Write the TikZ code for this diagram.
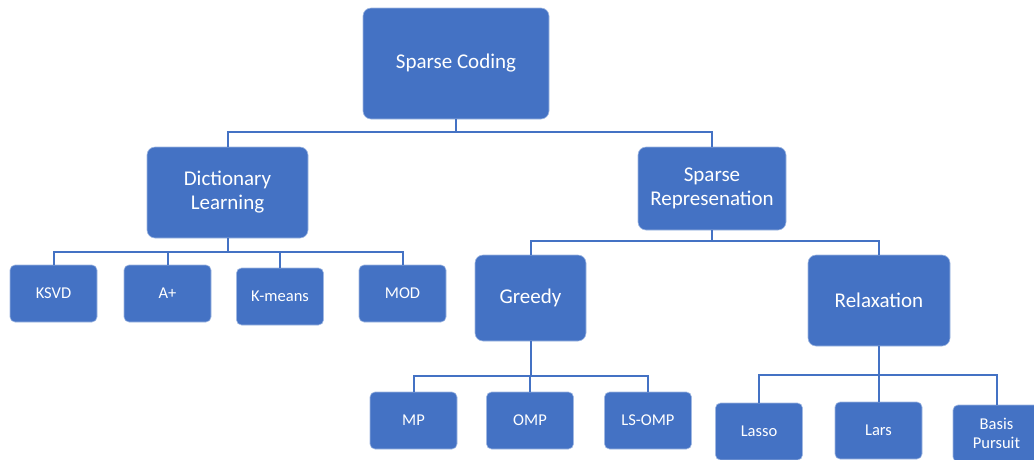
\documentclass[tikz,border=0pt]{standalone}
\usepackage{fontspec}
\setmainfont{Carlito}
\usetikzlibrary{positioning}
\definecolor{smartblue}{RGB}{68,114,196}
\definecolor{edgeblue}{RGB}{160,184,226}

\begin{document}
\begin{tikzpicture}[
    x=1pt, y=-1pt,
    bigbox/.style={rectangle, rounded corners=8pt, draw=edgeblue, line width=0.6pt, fill=smartblue,
                 text=white, inner sep=0pt, align=center, font=\fontsize{21}{24}\selectfont},
    leafbox/.style={bigbox, rounded corners=5pt, minimum width=87, minimum height=57,
                 font=\fontsize{16.5}{21}\selectfont},
    link/.style={draw=smartblue, line width=2pt}
]
\useasboundingbox (0,0) rectangle (1034,459);
\clip (0,0) rectangle (1034,459);
\fill[white] (0,0) rectangle (1034,459);
\node[bigbox, minimum width=186, minimum height=111] (sc) at (456,63.5) {Sparse Coding};
\node[bigbox, minimum width=161, minimum height=91] (dl) at (227.5,192.5) {Dictionary\\Learning};
\node[bigbox, minimum width=148, minimum height=83] (sr) at (712,188.5) {Sparse\\Represenation};
\node[leafbox] (ksvd) at (53.5,293.5) {KSVD};
\node[leafbox] (aplus) at (167.5,293.5) {A+};
\node[leafbox] (kmeans) at (280,296.5) {K-means};
\node[leafbox] (mod) at (402.5,293.5) {MOD};
\node[bigbox, minimum width=111, minimum height=86] (greedy) at (530.5,298) {Greedy};
\node[bigbox, minimum width=142, minimum height=91] (relax) at (879,300.5) {Relaxation};
\node[leafbox] (mp) at (413.5,420.5) {MP};
\node[leafbox] (omp) at (530,420.5) {OMP};
\node[leafbox] (lsomp) at (648,420.5) {LS-OMP};
\node[leafbox] (lasso) at (759,431.5) {Lasso};
\node[leafbox] (lars) at (878.5,430.5) {Lars};
\node[leafbox, font=\fontsize{16.5}{19}\selectfont] (bp) at (996.5,433.5) {Basis\\Pursuit};
% tree links
\draw[link] (sc.south) -- ++(0,13) -| (dl.north);
\draw[link] (sc.south) -- ++(0,13) -| (sr.north);
\draw[link] (dl.south) -- ++(0,14) -| (ksvd.north);
\draw[link] (dl.south) -- ++(0,14) -| (aplus.north);
\draw[link] (dl.south) -- ++(0,14) -| (kmeans.north);
\draw[link] (dl.south) -- ++(0,14) -| (mod.north);
\draw[link] (sr.south) -- ++(0,11) -| (greedy.north);
\draw[link] (sr.south) -- ++(0,11) -| (relax.north);
\draw[link] (greedy.south) -- ++(0,35) -| (mp.north);
\draw[link] (greedy.south) -- ++(0,35) -| (omp.north);
\draw[link] (greedy.south) -- ++(0,35) -| (lsomp.north);
\draw[link] (relax.south) -- ++(0,29) -| (lasso.north);
\draw[link] (relax.south) -- ++(0,29) -| (lars.north);
\draw[link] (relax.south) -- ++(0,29) -| (bp.north);
\end{tikzpicture}
\end{document}
